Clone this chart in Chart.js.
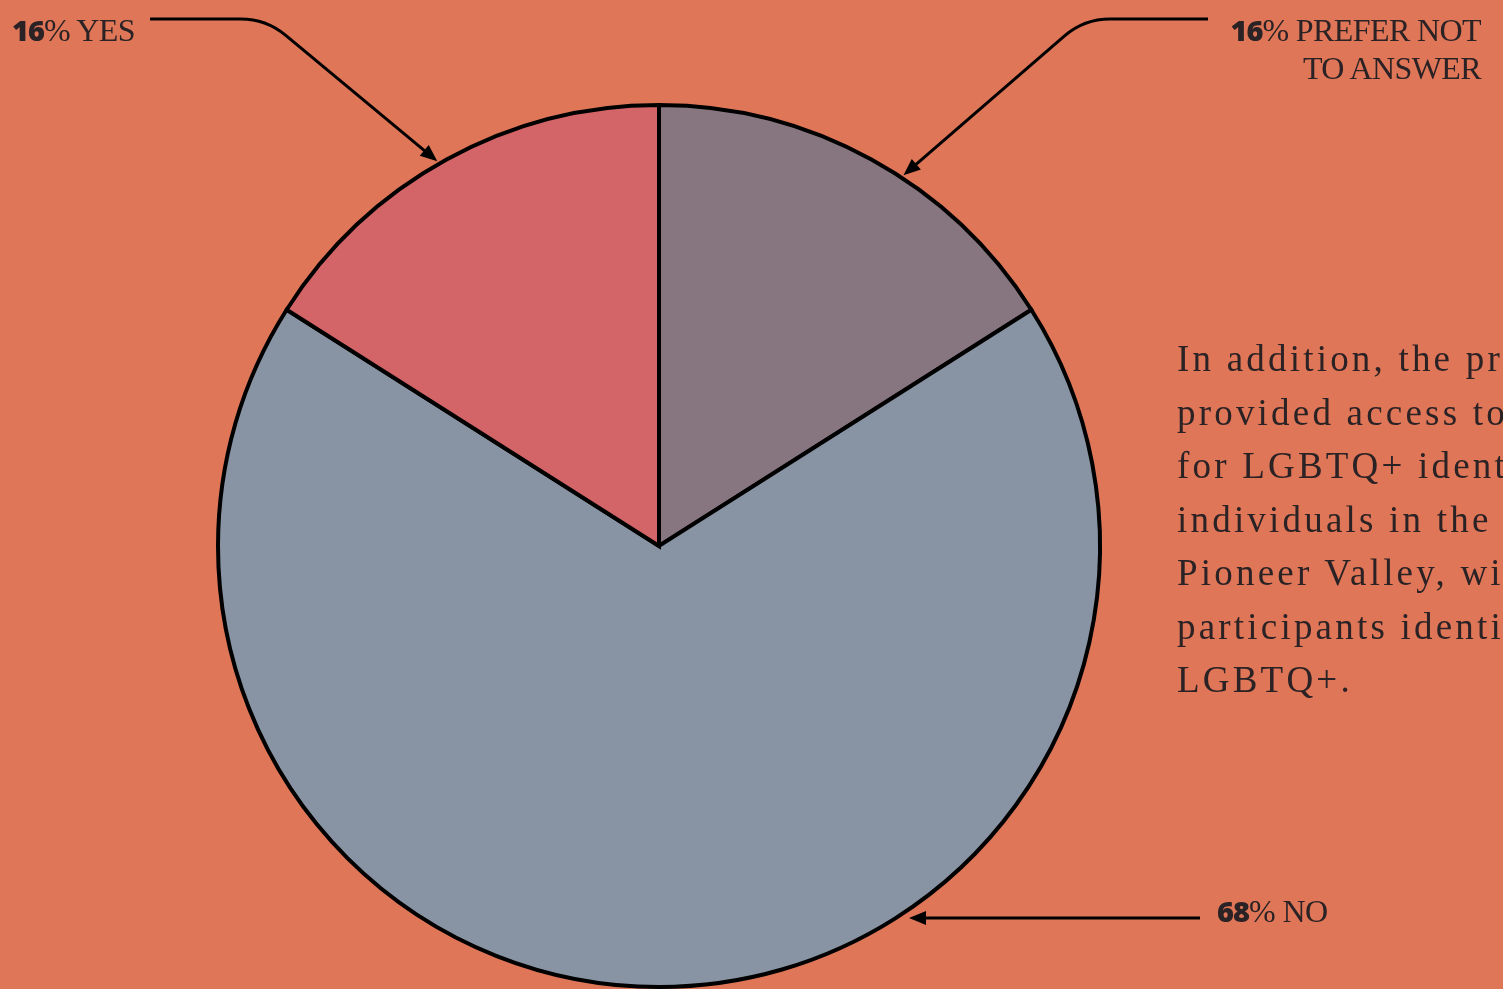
<!DOCTYPE html>
<html>
<head>
<meta charset="utf-8">
<script src="https://cdn.jsdelivr.net/npm/chart.js@4"></script>
<style>
  html, body { margin: 0; padding: 0; }
  body {
    width: 1503px; height: 989px; overflow: hidden; position: relative;
    background: #df7658; color: #2a2224;
  }
  #pie { position: absolute; left: 0; top: 0; }
  .lbl {
    position: absolute; white-space: nowrap;
    font-family: "Liberation Serif", "DejaVu Serif", serif; font-size: 32px; line-height: 38px;
    letter-spacing: -0.6px;
  }
  .lbl b { font-family: "Open Sans", "Inter", sans-serif; font-weight: 800; font-size: 29px; letter-spacing: -1px; }
  .para {
    position: absolute; left: 1177px; top: 332px; white-space: nowrap;
    font-family: "Liberation Serif", "DejaVu Serif", serif; font-size: 37px; line-height: 53.5px;
    letter-spacing: 3.2px;
  }
</style>
</head>
<body>
<canvas id="pie" width="1503" height="989"></canvas>
<div class="lbl" id="lblYes" style="left:12px; top:11px;"></div>
<div class="lbl" id="lblPrefer" style="right:22px; top:11px; text-align:right;"></div>
<div class="lbl" id="lblNo" style="left:1217px; top:892px;"></div>
<div class="para">
  In addition, the program<br>
  provided access to resources<br>
  for LGBTQ+ identifying<br>
  individuals in the Lower<br>
  Pioneer Valley, with 16% of<br>
  participants identifying as<br>
  LGBTQ+.
</div>
<script>
const categories = ["Prefer not to answer", "No", "Yes"];
const shares = [16, 68, 16];
const sliceColors = ["#87767f", "#8894a4", "#d36468"];
const labelText = ["PREFER NOT<br>TO ANSWER", "NO", "YES"];
const labelIds = ["lblPrefer", "lblNo", "lblYes"];

// where each arrow hits the rim, as a fraction along its slice
const arrowFrac = [0.58, 0.36, 0.48];
// leader line: start point and elbow (page pixels)
const leaders = [
  { start: [1208, 19], corner: [1084, 19] },
  { start: [1200, 918], corner: null },
  { start: [150, 19], corner: [266, 19] },
];

labelIds.forEach((id, i) => {
  document.getElementById(id).innerHTML = `<b>${shares[i]}</b>% ${labelText[i]}`;
});

function arrowHead(ctx, from, tip) {
  const a = Math.atan2(tip[1] - from[1], tip[0] - from[0]);
  const len = 17, half = 7;
  ctx.beginPath();
  ctx.moveTo(tip[0], tip[1]);
  ctx.lineTo(tip[0] - len * Math.cos(a) + half * Math.sin(a), tip[1] - len * Math.sin(a) - half * Math.cos(a));
  ctx.lineTo(tip[0] - len * Math.cos(a) - half * Math.sin(a), tip[1] - len * Math.sin(a) + half * Math.cos(a));
  ctx.closePath();
  ctx.fill();
}

const leaderLines = {
  id: "leaderLines",
  afterDatasetsDraw(chart) {
    const ctx = chart.ctx;
    const arcs = chart.getDatasetMeta(0).data;
    ctx.save();
    ctx.strokeStyle = "#000";
    ctx.fillStyle = "#000";
    ctx.lineWidth = 3;
    arcs.forEach((arc, i) => {
      const ang = arc.startAngle + arrowFrac[i] * (arc.endAngle - arc.startAngle);
      const r = arc.outerRadius + 3;
      let tip = [arc.x + r * Math.cos(ang), arc.y + r * Math.sin(ang)];
      const L = leaders[i];
      if (!L.corner) tip = [tip[0], L.start[1]];
      const from = L.corner || L.start;
      const a = Math.atan2(tip[1] - from[1], tip[0] - from[0]);
      const end = [tip[0] - 14 * Math.cos(a), tip[1] - 14 * Math.sin(a)];
      ctx.beginPath();
      ctx.moveTo(L.start[0], L.start[1]);
      if (L.corner) ctx.arcTo(L.corner[0], L.corner[1], tip[0], tip[1], 70);
      ctx.lineTo(end[0], end[1]);
      ctx.stroke();
      arrowHead(ctx, from, tip);
    });
    ctx.restore();
  },
};

new Chart(document.getElementById("pie").getContext("2d"), {
  type: "pie",
  data: {
    labels: categories,
    datasets: [{
      data: shares,
      backgroundColor: sliceColors,
      borderColor: "#000",
      borderWidth: 4,
      borderJoinStyle: "miter",
    }],
  },
  options: {
    responsive: false,
    animation: false,
    events: [],
    layout: { padding: { left: 215, right: 400, top: 103, bottom: 0 } },
    plugins: { legend: { display: false }, tooltip: { enabled: false } },
  },
  plugins: [leaderLines],
});
</script>
</body>
</html>
